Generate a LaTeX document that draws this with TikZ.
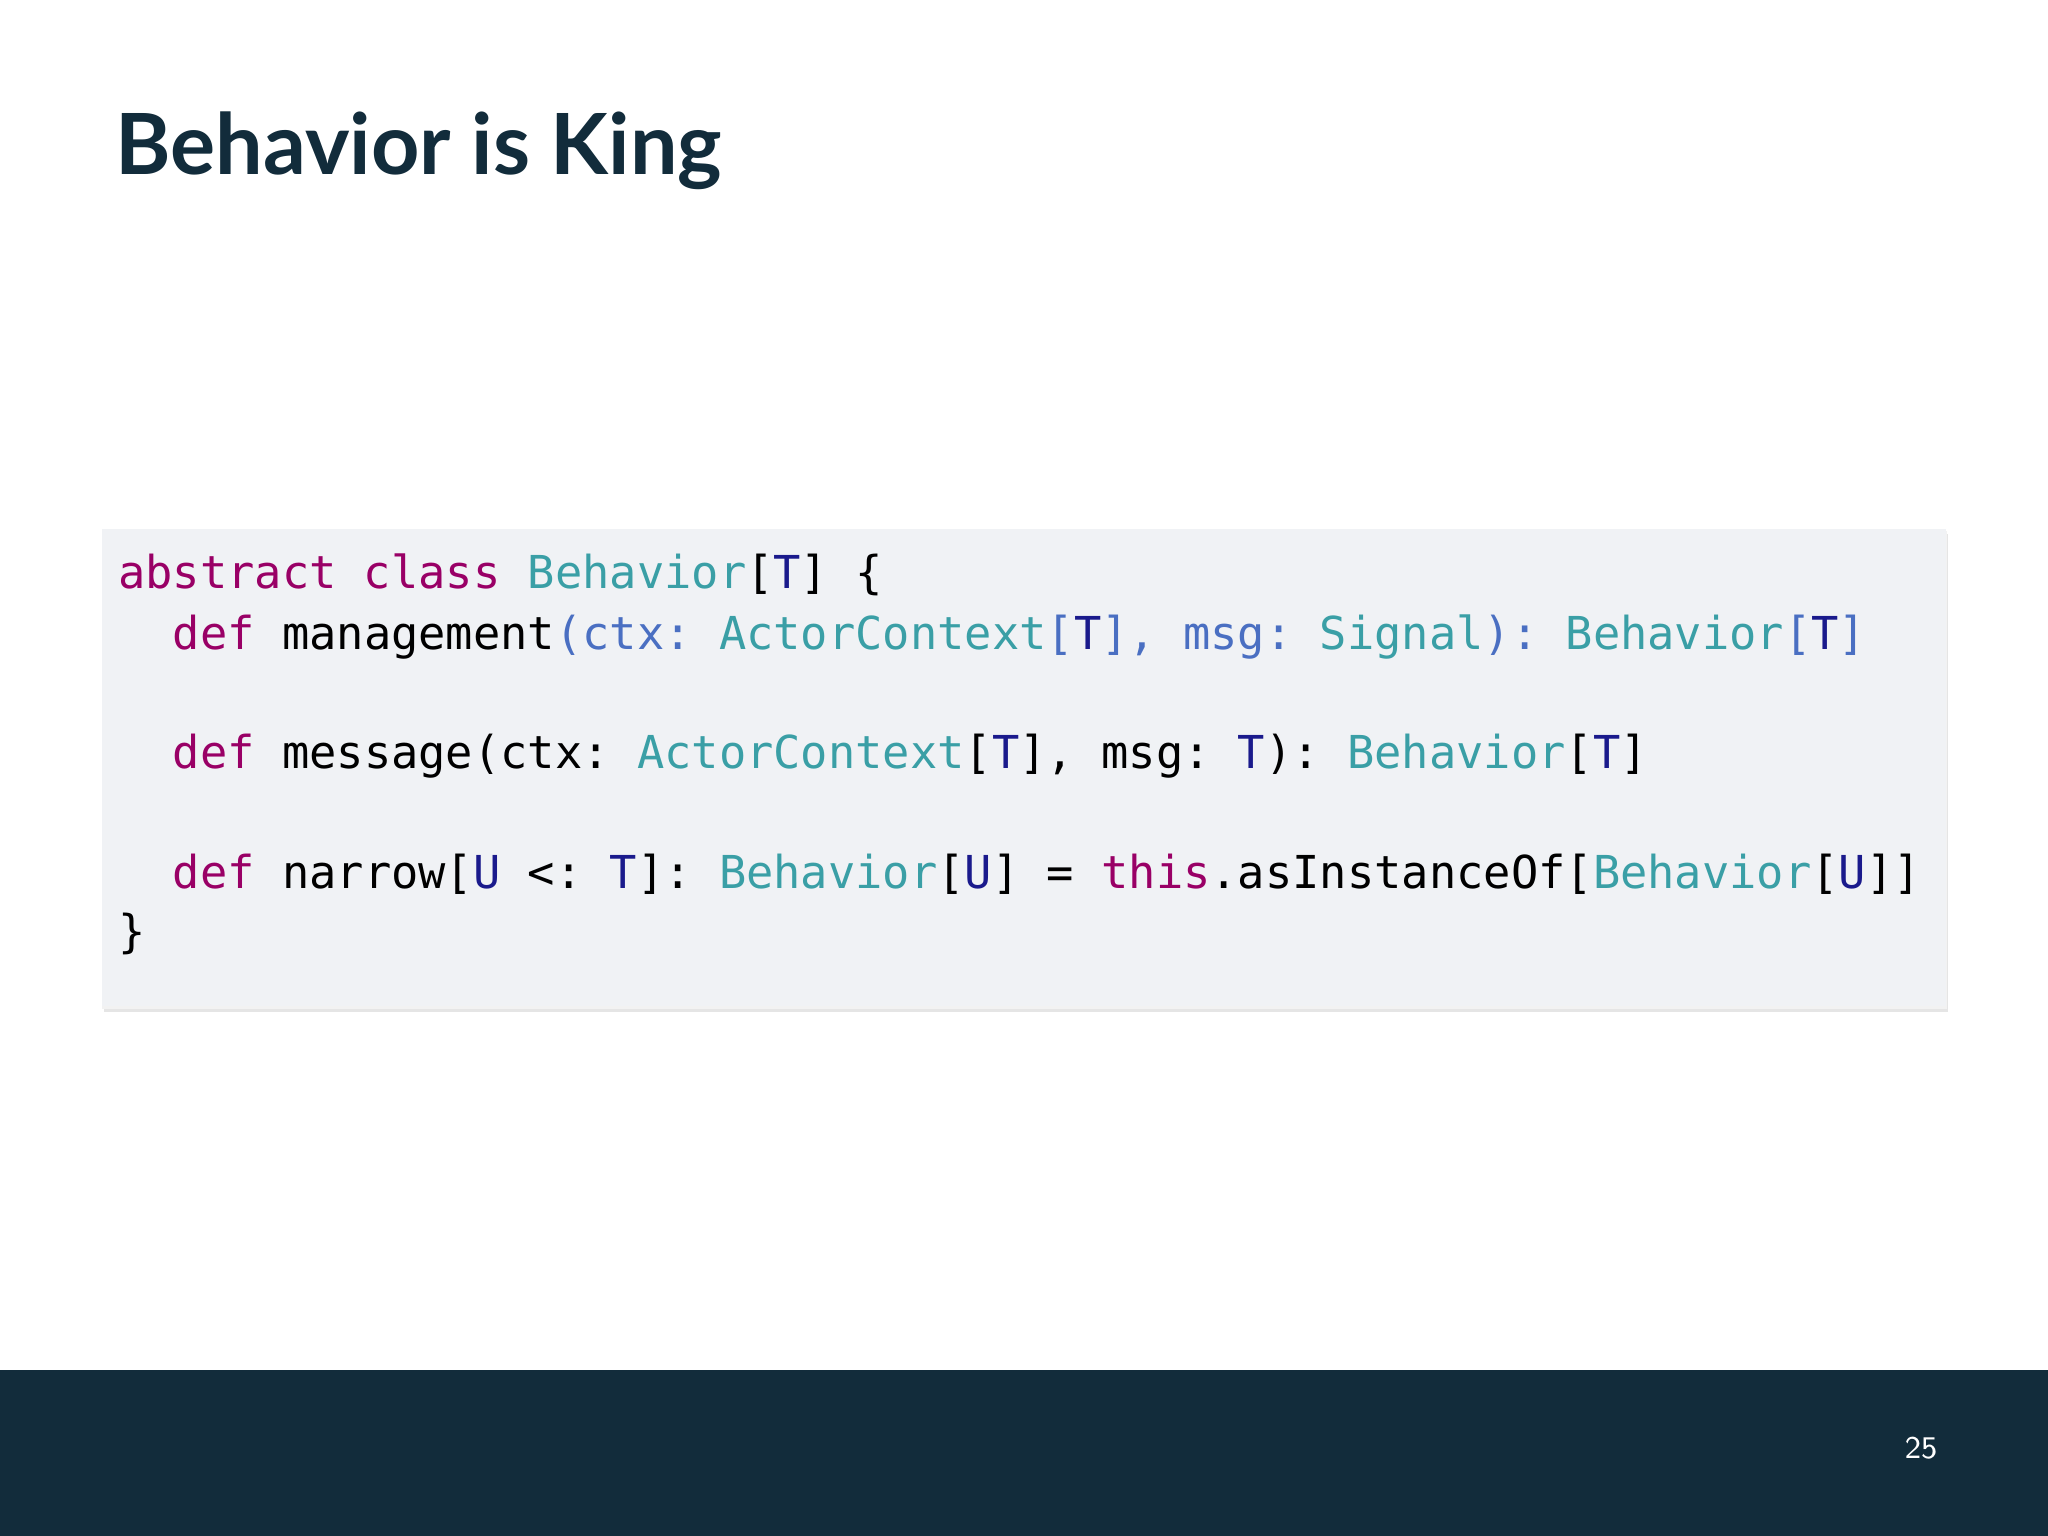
\documentclass[tikz,border=0pt]{standalone}
\usepackage{fontspec}
\setmonofont{DejaVu Sans Mono}
\newfontfamily\titlefont{Lato}
\definecolor{navy}{HTML}{122C3B}
\definecolor{kwc}{HTML}{990066}
\definecolor{tyc}{HTML}{3A9FA6}
\definecolor{tpc}{HTML}{1A1A8C}
\definecolor{blc}{HTML}{4A6FC2}
\definecolor{boxc}{HTML}{F0F2F5}
\newcommand{\kw}[1]{\textcolor{kwc}{#1}}
\newcommand{\ty}[1]{\textcolor{tyc}{#1}}
\newcommand{\tp}[1]{\textcolor{tpc}{#1}}
\newcommand{\bl}[1]{\textcolor{blc}{#1}}
\begin{document}
\begin{tikzpicture}[x=0.01cm,y=-0.01cm,
  codeline/.style={anchor=base west,inner sep=0pt,font=\ttfamily\fontsize{12.9pt}{15pt}\selectfont}]
\useasboundingbox (0,0) rectangle (2048,1536);
\fill[white] (0,0) rectangle (2048,1536);
\node[anchor=base west,inner sep=0pt,text=navy,font=\titlefont\bfseries\fontsize{24pt}{29pt}\selectfont] (title) at (115,174) {Behavior is King};
\fill[black!10] (104,534) rectangle (1948,1012);
\fill[black!5] (102,531) rectangle (1947,1009);
\fill[boxc] (102,529) rectangle (1946,1006);
\node[codeline] (l1) at (117.5,588) {\kw{abstract class} \ty{Behavior}[\tp{T}] \{};
\node[codeline] (l2) at (117.5,649) {\ \ \kw{def} management\bl{(ctx:} \ty{ActorContext}\bl{[}\tp{T}\bl{],} \bl{msg:} \ty{Signal}\bl{):} \ty{Behavior}\bl{[}\tp{T}\bl{]}};
\node[codeline] (l4) at (117.5,768) {\ \ \kw{def} message(ctx: \ty{ActorContext}[\tp{T}], msg: \tp{T}): \ty{Behavior}[\tp{T}]};
\node[codeline] (l6) at (117.5,888) {\ \ \kw{def} narrow[\tp{U} <: \tp{T}]: \ty{Behavior}[\tp{U}] = \kw{this}.asInstanceOf[\ty{Behavior}[\tp{U}]]};
\node[codeline] (l7) at (117.5,947) {\}};
\fill[navy] (0,1370) rectangle (2048,1536);
\node[anchor=base,inner sep=0pt,text=white,font=\sffamily\fontsize{9pt}{11pt}\selectfont] (pg) at (1921,1458) {25};
\end{tikzpicture}
\end{document}
